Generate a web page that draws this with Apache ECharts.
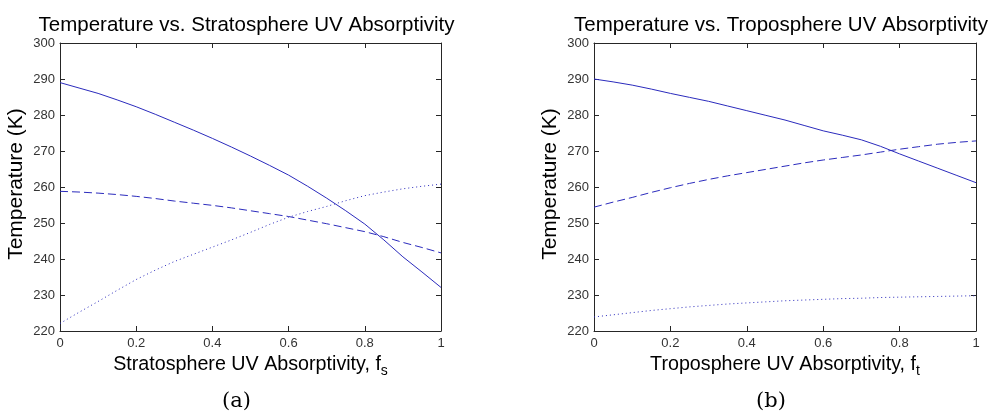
<!DOCTYPE html>
<html>
<head>
<meta charset="utf-8">
<script src="https://cdn.jsdelivr.net/npm/echarts@6/dist/echarts.min.js"></script>
<style>
html,body{margin:0;padding:0;background:#fff;}
#chart{width:998px;height:419px;}
</style>
</head>
<body>
<div id="chart"></div>
<script>
// Absorptivity sample points (shared by both panels)
const fVals = [0,0.05,0.1,0.15,0.2,0.25,0.3,0.35,0.4,0.45,0.5,0.55,0.6,0.65,0.7,0.75,0.8,0.85,0.9,0.95,1];
// Panel (a): stratosphere UV absorptivity
const stratSolid  = [289.0,287.5,286.0,284.2,282.3,280.2,278.0,275.8,273.5,271.1,268.6,266.0,263.3,260.2,256.9,253.4,249.7,245.3,240.6,236.4,232.1];
const stratDashed = [258.8,258.6,258.3,257.9,257.4,256.8,256.1,255.5,254.9,254.2,253.4,252.6,251.8,250.8,249.8,248.7,247.6,246.2,244.6,243.2,241.7];
const stratDotted = [222.1,225.2,228.2,231.3,234.3,236.9,239.3,241.3,243.3,245.3,247.4,249.6,251.6,253.2,254.6,256.2,257.6,258.6,259.5,260.2,260.8];
// Panel (b): troposphere UV absorptivity
const tropSolid  = [290.0,289.2,288.3,287.2,286.0,284.9,283.8,282.5,281.2,279.9,278.6,277.1,275.6,274.4,273.1,271.3,269.2,267.2,265.2,263.2,261.2];
const tropDashed = [254.4,255.8,257.1,258.5,259.8,261.0,262.1,263.1,264.0,264.9,265.8,266.7,267.5,268.2,268.9,269.7,270.5,271.2,271.9,272.4,272.8];
const tropDotted = [223.9,224.5,225.1,225.7,226.2,226.7,227.1,227.5,227.8,228.1,228.4,228.6,228.8,229.0,229.1,229.3,229.4,229.5,229.6,229.7,229.8];

const titles = ['Temperature vs. Stratosphere UV Absorptivity','Temperature vs. Troposphere UV Absorptivity'];
const xNames = ['Stratosphere UV Absorptivity, f','Troposphere UV Absorptivity, f'];
const xSubs = ['s','t'];
const yName = 'Temperature (K)';
const panelTags = ['(a)','(b)'];

const LINE = '#2b2bbd';
const AX = '#262626';
const font = 'Arial, "Liberation Sans", Helvetica, sans-serif';

function pairs(vals){ return fVals.map((f,i)=>[f, vals[i]]); }

const grids = [
  {left:60, top:43, width:381, height:288},
  {left:594, top:43, width:382, height:288}
];

const xAxes = [], yAxes = [];
[0,1].forEach(g=>{
  xAxes.push({
    type:'value', gridIndex:g, position:'bottom', min:0, max:1, interval:0.2,
    axisLine:{show:true, onZero:false, lineStyle:{color:AX,width:1}},
    axisTick:{show:true, inside:true, length:5, lineStyle:{color:AX}},
    axisLabel:{color:'#333', fontSize:13, fontFamily:font, margin:6},
    splitLine:{show:false},
    name: '{m|'+xNames[g]+'}{s|'+xSubs[g]+'}',
    nameLocation:'middle', nameGap:17,
    nameTextStyle:{rich:{
      m:{fontSize:19.7, fontFamily:font, color:'#000', lineHeight:26, verticalAlign:'middle'},
      s:{fontSize:14, fontFamily:font, color:'#000', lineHeight:26, verticalAlign:'bottom'}
    }}
  });
  xAxes.push({
    type:'value', gridIndex:g, position:'top', min:0, max:1, interval:0.2,
    axisLine:{show:true, onZero:false, lineStyle:{color:AX,width:1}},
    axisTick:{show:true, inside:true, length:5, lineStyle:{color:AX}},
    axisLabel:{show:false}, splitLine:{show:false}
  });
  yAxes.push({
    type:'value', gridIndex:g, position:'left', min:220, max:300, interval:10,
    axisLine:{show:true, onZero:false, lineStyle:{color:AX,width:1}},
    axisTick:{show:true, inside:true, length:5, lineStyle:{color:AX}},
    axisLabel:{color:'#333', fontSize:13, fontFamily:font, margin:5},
    splitLine:{show:false},
    name: yName, nameLocation:'middle', nameGap:33, nameRotate:90,
    nameTextStyle:{fontSize:21, fontFamily:font, color:'#000', padding:[0,0,0,6]}
  });
  yAxes.push({
    type:'value', gridIndex:g, position:'right', min:220, max:300, interval:10,
    axisLine:{show:true, onZero:false, lineStyle:{color:AX,width:1}},
    axisTick:{show:true, inside:true, length:5, lineStyle:{color:AX}},
    axisLabel:{show:false}, splitLine:{show:false}
  });
});

function line(g, vals, type){
  return {
    type:'line', xAxisIndex:g*2, yAxisIndex:g*2, data:pairs(vals),
    showSymbol:false, symbol:'none', smooth:false, silent:true,
    lineStyle:{color:LINE, width:1, type:type}, animation:false
  };
}

const series = [
  line(0, stratSolid, 'solid'),
  line(0, stratDashed, [8,4]),
  line(0, stratDotted, [1,3]),
  line(1, tropSolid, 'solid'),
  line(1, tropDashed, [8,4]),
  line(1, tropDotted, [1,3])
];

const graphics = [];
[0,1].forEach(g=>{
  const cx = grids[g].left + grids[g].width/2;
  graphics.push({type:'text', x: cx-4, y:25, style:{text:titles[g], fill:'#000', font:'20.5px '+font, textAlign:'center', textVerticalAlign:'middle'}});
  graphics.push({type:'text', x: cx-14, y:402, style:{text:panelTags[g], fill:'#000', font:'21px "DejaVu Serif", serif', textAlign:'center', textVerticalAlign:'middle'}});
});

const chart = echarts.init(document.getElementById('chart'), null, {renderer:'canvas'});
chart.setOption({
  animation:false,
  backgroundColor:'#fff',
  grid:grids, xAxis:xAxes, yAxis:yAxes, series:series,
  graphic:graphics
});
</script>
</body>
</html>
